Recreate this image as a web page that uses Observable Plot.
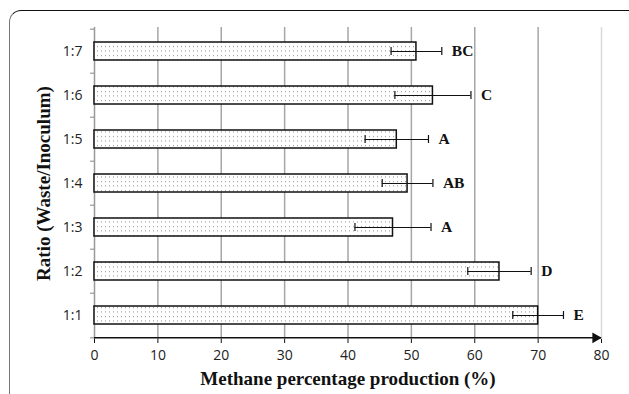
<!DOCTYPE html>
<html>
<head>
<meta charset="utf-8">
<script src="https://cdn.jsdelivr.net/npm/d3@7"></script>
<script src="https://cdn.jsdelivr.net/npm/@observablehq/plot@0.6"></script>
<style>
  html, body { margin: 0; padding: 0; background: #fff; overflow: hidden; }
  #wrap { position: relative; width: 629px; height: 394px; }
  #frame { position: absolute; left: 9px; top: 10px; width: 640px; height: 420px;
           border-top: 1.5px solid #111; border-left: 1.5px solid #777; border-radius: 12px; }
  #chart { position: absolute; left: 0; top: 0; }
</style>
</head>
<body>
<div id="wrap"><div id="frame"></div><div id="chart"></div></div>
<script>
const categories = ["1:1", "1:2", "1:3", "1:4", "1:5", "1:6", "1:7"];
const values = [70.0, 63.9, 47.1, 49.4, 47.7, 53.4, 50.8];
const errors = [4.0, 5.0, 6.0, 4.0, 5.0, 6.0, 4.0];
const letters = ["E", "D", "A", "AB", "A", "C", "BC"];
const xTicks = [0, 10, 20, 30, 40, 50, 60, 70, 80];
const xTitle = "Methane percentage production (%)";
const yTitle = "Ratio (Waste/Inoculum)";

const data = categories.map((c, i) => ({cat: c, value: values[i], err: errors[i], letter: letters[i]}));

const W = 629, H = 394, mL = 94, mR = 28, mT = 27, mB = 55;
const step = (H - mT - mB) / categories.length;
const serif = "'Liberation Serif', 'Times New Roman', serif";
const sans = "'Open Sans', sans-serif";

const plot = Plot.plot({
  width: W, height: H,
  marginLeft: mL, marginRight: mR, marginTop: mT, marginBottom: mB,
  style: {fontFamily: sans, fontSize: "14px", color: "#222", background: "transparent"},
  x: {domain: [0, 80], ticks: xTicks, label: null},
  y: {domain: categories.slice().reverse(), paddingInner: 0.6, paddingOuter: 0.3, label: null},
  marks: [
    Plot.ruleX(xTicks.filter(d => d > 0 && d < 80), {stroke: "#a6a6a6", strokeWidth: 1.5}),
    Plot.ruleX(xTicks.filter(d => d === 80), {stroke: "#d9d9d9", strokeWidth: 1.5}),
    Plot.ruleX([0], {stroke: "#999", strokeWidth: 1.5}),
    // y tick marks at category boundaries
    Plot.ruleY(categories, {y: d => d, x1: 0, x2: 0, insetLeft: -4, dy: -step / 2, stroke: "#999", strokeWidth: 1.2}),
    Plot.ruleY([categories[0]], {y: d => d, x1: 0, x2: 0, insetLeft: -4, dy: step / 2, stroke: "#999", strokeWidth: 1.2}),
    Plot.barX(data, {y: "cat", x: "value", fill: "url(#dots)", stroke: "#111", strokeWidth: 1.5}),
    Plot.ruleY(data, {y: "cat", x1: d => d.value - d.err, x2: d => d.value + d.err, stroke: "#111", strokeWidth: 1.2}),
    Plot.tickX(data, {y: "cat", x: d => d.value - d.err, insetTop: 5, insetBottom: 5, stroke: "#111", strokeWidth: 1.2}),
    Plot.tickX(data, {y: "cat", x: d => d.value + d.err, insetTop: 5, insetBottom: 5, stroke: "#111", strokeWidth: 1.2}),
    Plot.text(data, {y: "cat", x: d => d.value + d.err, text: "letter", dx: 10, textAnchor: "start",
      fontFamily: serif, fontWeight: "bold", fontSize: 15.5, fill: "#111"}),
    // x axis line with arrow
    Plot.ruleY([categories[0]], {y: d => d, x1: 0, x2: 80, dy: step / 2, stroke: "#111", strokeWidth: 1.5}),
    Plot.dot([80], {x: d => d, y: () => categories[0], dy: step / 2, dx: -6, symbol: "triangle", rotate: 90, r: 4, fill: "#111", stroke: "none"}),
    Plot.axisX({ticks: xTicks, tickSize: 4, tickPadding: 7, stroke: "#111", label: null, fontSize: 14, fontFamily: sans}),
    Plot.axisY({tickSize: 0, tickPadding: 12, label: null, fontSize: 14, fontFamily: sans}),
    Plot.text([xTitle], {frameAnchor: "bottom", dy: 45, text: d => d, textAnchor: "middle", fontFamily: serif, fontWeight: "bold", fontSize: 19, fill: "#111"}),
    Plot.text([yTitle], {frameAnchor: "left", dx: -51, rotate: -90, text: d => d, textAnchor: "middle", fontFamily: serif, fontWeight: "bold", fontSize: 19, fill: "#111"})
  ]
});

const defs = d3.select(plot).insert("defs", ":first-child");
const pat = defs.append("pattern").attr("id", "dots").attr("patternUnits", "userSpaceOnUse")
  .attr("width", 4).attr("height", 4.5);
pat.append("rect").attr("width", 4).attr("height", 4.5).attr("fill", "#fff");
pat.append("rect").attr("x", 1).attr("y", 1).attr("width", 1).attr("height", 1).attr("fill", "#8c8c8c");

document.getElementById("chart").appendChild(plot);
</script>
</body>
</html>
